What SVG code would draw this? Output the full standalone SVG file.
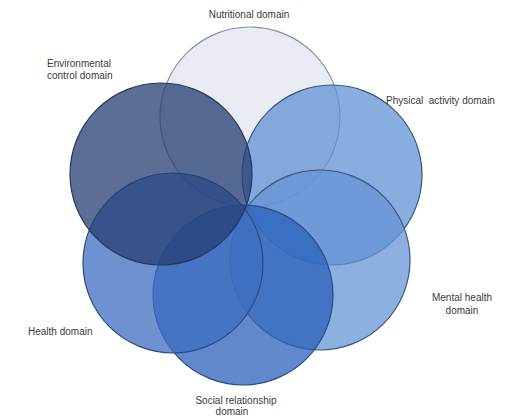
<svg xmlns="http://www.w3.org/2000/svg" width="512" height="418" viewBox="0 0 512 418">
<style>
.c{stroke-width:1.2;fill-opacity:0.75}
.lbl{font-family:"Liberation Sans",Arial,sans-serif;font-size:10px;fill:#3a3a3a}
</style>
<rect width="512" height="418" fill="#ffffff"/>
<g id="connectors"></g>
<g id="nutritional">
<circle cx="250" cy="117" r="90" fill="#e8ebf3" stroke="#8a909c" stroke-width="1.2"/>
<text class="lbl" x="249" y="17.5" text-anchor="middle">Nutritional domain</text>
</g>
<g id="physical">
<circle class="c" cx="332" cy="175" r="90" fill="#6092d4" stroke="#3d5580"/>
<text class="lbl" x="386" y="103.5" xml:space="preserve">Physical  activity domain</text>
</g>
<g id="mental">
<circle class="c" cx="320" cy="260" r="90" fill="#6596d6" stroke="#3d5580"/>
<text class="lbl" x="462" y="300.5" text-anchor="middle">Mental health</text>
<text class="lbl" x="462" y="313.5" text-anchor="middle">domain</text>
</g>
<g id="social">
<circle class="c" cx="243" cy="295" r="90" fill="#2b60bb" stroke="#2f4a80"/>
<text class="lbl" x="236" y="403.5" text-anchor="middle">Social relationship</text>
<text class="lbl" x="232" y="414.5" text-anchor="middle">domain</text>
</g>
<g id="health">
<circle class="c" cx="173" cy="263" r="90" fill="#3c6ebf" stroke="#2f4a80"/>
<text class="lbl" x="28" y="334.5">Health domain</text>
</g>
<g id="environmental">
<circle class="c" cx="161" cy="174" r="91" fill="#263e73" stroke="#27375e"/>
<text class="lbl" x="47" y="66.5">Environmental</text>
<text class="lbl" x="47" y="78.5">control domain</text>
</g>
</svg>
